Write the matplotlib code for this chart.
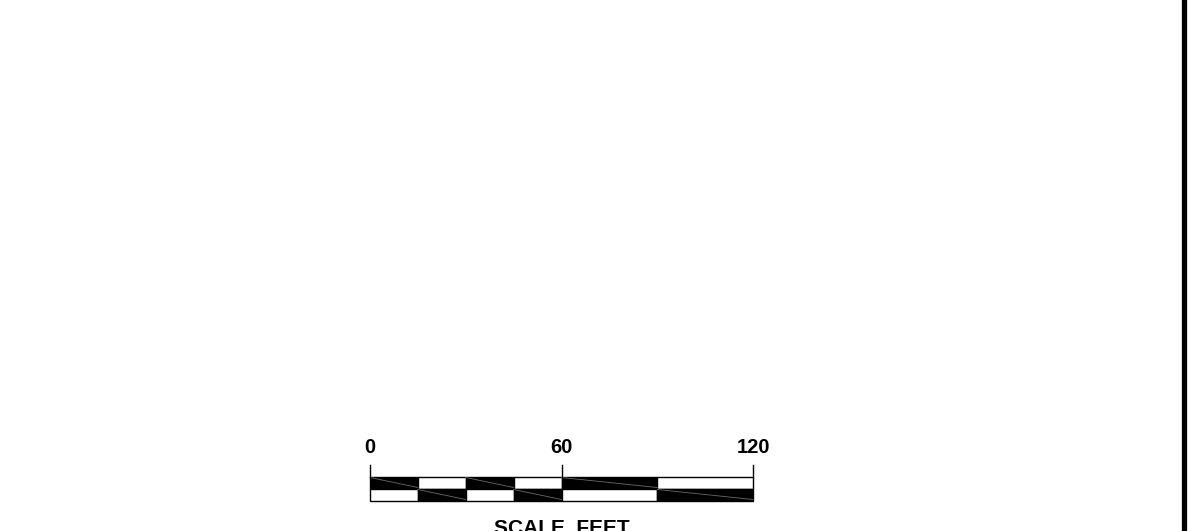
import matplotlib
matplotlib.use("Agg")
import matplotlib.pyplot as plt
from matplotlib.lines import Line2D

# Scale bar data (feet)
tick_values = [0, 60, 120]
tick_labels = ["0", "60", "120"]
seg_starts = [0, 15, 30, 45, 60, 90]
seg_widths = [15, 15, 15, 15, 30, 30]
top_fill = ["black", "white", "black", "white", "black", "white"]
bottom_fill = ["white", "black", "white", "black", "white", "black"]
title = "SCALE  FEET"

W, H = 1188, 531
fig = plt.figure(figsize=(W / 100, H / 100), dpi=100)
fig.patch.set_facecolor("white")

# right border line
bg = fig.add_axes([0, 0, 1, 1])
bg.set_xlim(0, W)
bg.set_ylim(H, 0)
bg.axis("off")
bg.add_line(Line2D([1183.5, 1183.5], [0, H], color="black", lw=3.8))

ax = fig.add_axes([370 / W, 0, 383 / W, 1])
ax.set_xlim(0, 120)
ax.set_ylim(H, 0)
ax.axis("off")

top_y, mid_y, bot_y = 476.5, 488.5, 500.5
for x0, w, c in zip(seg_starts, seg_widths, top_fill):
    ax.bar(x0, mid_y - top_y, width=w, bottom=top_y, align="edge",
           color=c, edgecolor="black", linewidth=1.0, clip_on=False)
    if c == "black":
        ax.plot([x0, x0 + w], [top_y + 1, mid_y - 1], color="#6a6a6a", lw=0.6, clip_on=False)
for x0, w, c in zip(seg_starts, seg_widths, bottom_fill):
    ax.bar(x0, bot_y - mid_y, width=w, bottom=mid_y, align="edge",
           color=c, edgecolor="black", linewidth=1.0, clip_on=False)
    if c == "black":
        ax.plot([x0, x0 + w], [mid_y + 1, bot_y - 1], color="#6a6a6a", lw=0.6, clip_on=False)

for v, lab in zip(tick_values, tick_labels):
    ax.plot([v, v], [465, top_y], color="black", lw=1.0, clip_on=False)
    ax.text(v, 453, lab, ha="center", va="baseline", fontsize=14.5,
            fontweight="bold", family="Liberation Sans", clip_on=False)

ax.text(60, 534, title, ha="center", va="baseline", fontsize=15,
        fontweight="bold", family="Liberation Sans", clip_on=False)

fig.savefig("out.png", dpi=100, facecolor="white")
